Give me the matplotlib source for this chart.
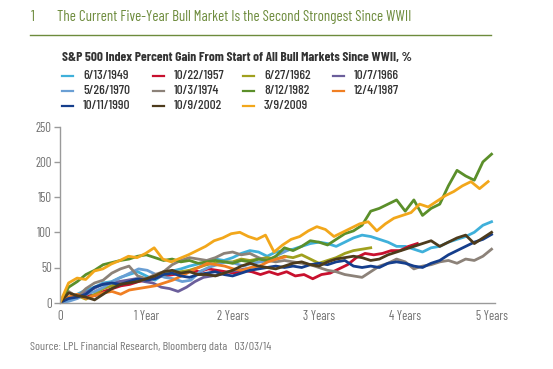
import numpy as np
import matplotlib
matplotlib.use("Agg")
import matplotlib.pyplot as plt
from matplotlib import font_manager
from matplotlib.lines import Line2D

# ---------------- data ----------------
labels = ["6/13/1949", "10/22/1957", "6/27/1962", "10/7/1966",
          "5/26/1970", "10/3/1974", "8/12/1982", "12/4/1987",
          "10/11/1990", "10/9/2002", "3/9/2009"]

colors = ["#3fb0da", "#c8102e", "#a0a01e", "#6b5e9b",
          "#6a9fd4", "#8c8279", "#5b8f2a", "#f07f23",
          "#153e8c", "#4d3b1c", "#f2a71b"]

# length of each bull market shown (years)
end_years = [5.0, 4.14, 3.6, 2.15, 2.63, 5.0, 5.0, 2.61, 5.0, 5.0, 4.96]

s1949 = [0, 6, 12, 18, 22, 28, 30, 36, 40, 44, 38, 32, 40, 45, 48, 52, 55, 56, 62, 60,
         64, 70, 74, 72, 66, 72, 74, 76, 80, 84, 86, 84, 80, 86, 92, 96, 94, 90, 86, 80,
         80, 76, 72, 78, 80, 86, 90, 94, 100, 110, 115]
s1957 = [0, 4, 8, 12, 10, 16, 20, 24, 26, 30, 32, 36, 38, 40, 42, 46, 44, 48, 46, 44,
         42, 46, 44, 40, 44, 40, 44, 38, 40, 34, 40, 42, 48, 54, 64, 70, 68, 70, 74, 74,
         80, 84]
s1962 = [0, 8, 10, 5, 12, 20, 24, 28, 30, 32, 34, 38, 40, 42, 44, 46, 50, 54, 56, 58,
         58, 62, 60, 62, 64, 62, 66, 64, 68, 62, 56, 60, 64, 70, 74, 76, 78]
s1966 = [0, 4, 10, 14, 20, 26, 28, 30, 32, 34, 30, 28, 22, 20, 16, 22, 30, 36, 38, 40,
         44, 46, 48]
s1970 = [0, 2, 6, 12, 16, 22, 30, 36, 42, 48, 46, 40, 36, 34, 30, 32, 44, 50, 54, 58,
         56, 52, 56, 58, 60, 68, 74]
s1974 = [0, 16, 8, 20, 28, 32, 42, 48, 52, 38, 34, 40, 44, 54, 60, 64, 62, 60, 64, 70,
         72, 68, 70, 64, 60, 58, 60, 58, 56, 54, 50, 46, 44, 40, 38, 36, 44, 52, 56, 62,
         58, 48, 52, 54, 58, 60, 56, 62, 60, 66, 76]
s1982 = [0, 22, 30, 40, 46, 54, 57, 60, 62, 66, 68, 64, 60, 62, 58, 60, 56, 58, 60, 58,
         56, 60, 58, 62, 60, 66, 78, 74, 80, 88, 86, 82, 90, 98, 102, 110, 130, 134, 140, 146,
         130, 146, 124, 134, 140, 166, 188, 180, 174, 200, 211]
s1987 = [0, 8, 12, 6, 10, 14, 16, 12, 18, 20, 22, 24, 28, 32, 38, 44, 50, 56, 54, 52,
         48, 46, 50, 52, 58, 62, 65]
s1990 = [0, 6, 8, 12, 22, 26, 28, 26, 30, 34, 32, 34, 40, 42, 38, 36, 40, 42, 44, 40,
         38, 42, 46, 48, 50, 52, 50, 52, 50, 54, 56, 54, 58, 60, 52, 50, 52, 50, 56, 58,
         56, 52, 50, 56, 60, 68, 74, 80, 86, 90, 97]
s2002 = [0, 14, 10, 8, 4, 12, 20, 26, 28, 30, 34, 38, 44, 46, 42, 44, 40, 40, 38, 42,
         46, 52, 56, 52, 50, 48, 52, 56, 58, 54, 52, 58, 62, 64, 66, 64, 60, 62, 68, 72,
         76, 80, 84, 88, 80, 86, 92, 96, 84, 92, 100]
s2009 = [0, 28, 35, 33, 45, 48, 55, 60, 66, 64, 70, 78, 62, 58, 63, 68, 74, 80, 88, 92,
         98, 100, 94, 90, 96, 72, 82, 90, 94, 102, 108, 104, 94, 100, 106, 112, 115, 102, 112, 120,
         124, 128, 140, 136, 144, 152, 158, 166, 172, 162, 172]

series = [s1949, s1957, s1962, s1966, s1970, s1974, s1982, s1987, s1990, s2002, s2009]

y_ticks = [0, 50, 100, 150, 200, 250]
x_ticks = [0, 1, 2, 3, 4, 5]
x_tick_labels = ["0", "1 Year", "2 Years", "3 Years", "4 Years", "5 Years"]

title_num = "1"
title = "The Current Five-Year Bull Market Is the Second Strongest Since WWII"
legend_title = "S&P 500 Index Percent Gain From Start of All Bull Markets Since WWII, %"
source = "Source: LPL Financial Research, Bloomberg data   03/03/14"

# ---------------- fonts ----------------
avail = {f.name for f in font_manager.fontManager.ttflist}
prefs = ["Barlow Condensed", "Roboto Condensed", "Barlow Semi Condensed", "Archivo Narrow",
         "PT Sans Narrow", "Liberation Sans Narrow", "Open Sans Condensed", "Encode Sans Condensed",
         "Sofia Sans Condensed", "Pathway Gothic One", "Roboto"]
chosen = [f for f in prefs if f in avail][:1]
plt.rcParams["font.family"] = chosen + ["DejaVu Sans"]

W, H = 553, 369
fig = plt.figure(figsize=(W / 100, H / 100), dpi=100)
fig.patch.set_facecolor("white")


def fx(px):
    return px / W


def fy(py):
    return 1 - py / H


ax = fig.add_axes([fx(60), fy(302.7), fx(495) - fx(60), fy(126.7) - fy(302.7)])

for vals, c, e in zip(series, colors, end_years):
    t = np.linspace(0, e, len(vals))
    ax.plot(t, vals, color=c, lw=2.0, solid_joinstyle="round")

ax.set_xlim(0, 5.04)
ax.set_ylim(0, 250)
ax.set_yticks(y_ticks)
ax.set_xticks(x_ticks)
ax.set_xticklabels(x_tick_labels)
for s in ["top", "right"]:
    ax.spines[s].set_visible(False)
for s in ["left", "bottom"]:
    ax.spines[s].set_color("#9a9a9a")
    ax.spines[s].set_linewidth(1.0)
ax.tick_params(axis="y", length=4, width=1, color="#9a9a9a", labelcolor="#707070", labelsize=9.5, pad=2)
ax.tick_params(axis="x", length=0, labelcolor="#707070", labelsize=9.5, pad=5)

texts_to_fit = []

green = "#6d8b3c"
t_num = fig.text(fx(31), fy(17), title_num, color=green, fontsize=11, va="center", ha="left")
t_title = fig.text(fx(57), fy(17), title, color=green, fontsize=11, va="center", ha="left")
texts_to_fit.append((t_title, 351))
fig.add_artist(Line2D([fx(30), fx(491)], [fy(34.5), fy(34.5)], color=green, lw=1.0))

t_leg = fig.text(fx(62), fy(57), legend_title, color="#333333", fontsize=9, fontweight="bold",
                 va="center", ha="left")
texts_to_fit.append((t_leg, 350))
col_x = [62, 153, 243, 333]
row_y = [75.7, 91, 106]
label_texts = []
for i, (lab, c) in enumerate(zip(labels, colors)):
    r, k = divmod(i, 4)
    x0 = col_x[k]
    y0 = row_y[r]
    fig.add_artist(Line2D([fx(x0), fx(x0 + 11)], [fy(y0), fy(y0)], color=c, lw=1.6))
    tt = fig.text(fx(x0 + 21), fy(y0), lab, color="#333333", fontsize=9.5, fontweight="medium",
                  va="center", ha="left")
    label_texts.append(tt)

t_src = fig.text(fx(30), fy(346.5), source, color="#777777", fontsize=8.5, va="center", ha="left")
texts_to_fit.append((t_src, 242))

# fit font sizes to the reference text widths
fig.canvas.draw()
rend = fig.canvas.get_renderer()
for t, target in texts_to_fit:
    w = t.get_window_extent(rend).width
    t.set_fontsize(t.get_fontsize() * target / w)
# legend labels: "10/22/1957" is ~51 px wide in reference
w = label_texts[1].get_window_extent(rend).width
ls = label_texts[1].get_fontsize() * 51 / w
for tt in label_texts:
    tt.set_fontsize(ls)
t_num.set_fontsize(t_title.get_fontsize())
# tick labels: "5 Years" ~32 px
lab5 = ax.get_xticklabels()[-1]
w = lab5.get_window_extent(rend).width
ts = 9.5 * 32 / w
ax.tick_params(axis="both", labelsize=ts)

fig.savefig("out.png", dpi=100, facecolor="white")
